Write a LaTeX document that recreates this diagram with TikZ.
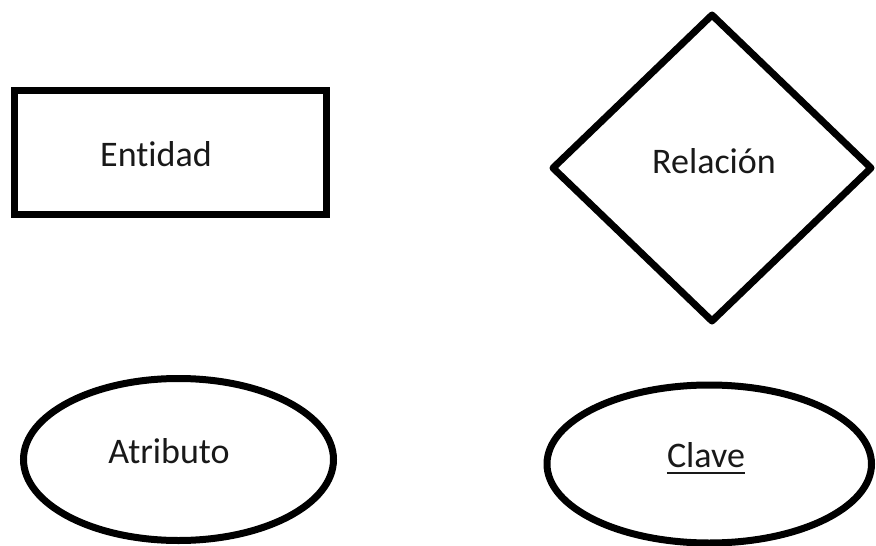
\documentclass[tikz,border=0pt]{standalone}
\usepackage{fontspec}
\setmainfont{Carlito}[Ligatures=NoCommon]
\usetikzlibrary{shapes.geometric}

\tikzset{
  shapeline/.style={draw=black, line width=7pt, inner sep=0pt, outer sep=0pt},
  label text/.style={anchor=base, inner sep=0pt, text=black!90,
    font=\fontsize{36}{43}\selectfont}
}

\begin{document}
\begin{tikzpicture}[x=1pt, y=-1pt]
  \useasboundingbox (0,0) rectangle (876,546);

  % entity: rectangle with sharp corners
  \node[shapeline, rectangle, line join=miter, minimum width=311.5pt, minimum height=124pt]
    (entidad) at (170.25,152.5) {};
  \node[label text] (entidadtxt) at (156,166) {Entidad};

  % relationship: diamond
  \node[shapeline, diamond, line join=round, minimum width=318pt, minimum height=306pt]
    (relacion) at (712,168) {};
  \node[label text] (relaciontxt) at (714,173) {Relación};

  % attribute: ellipse
  \node[shapeline, ellipse, minimum width=310pt, minimum height=162pt]
    (atributo) at (178.5,459.5) {};
  \node[label text] (atributotxt) at (169,463) {Atributo};

  % key attribute: ellipse with underlined name
  \node[shapeline, ellipse, minimum width=324.5pt, minimum height=158pt]
    (clave) at (709.25,464) {};
  \node[label text] (clavetxt) at (706,467) {Clave};
  \draw[line width=2.5pt, black!90]
    ([yshift=-6pt]clavetxt.base west) -- ([yshift=-6pt]clavetxt.base east);
\end{tikzpicture}
\end{document}
